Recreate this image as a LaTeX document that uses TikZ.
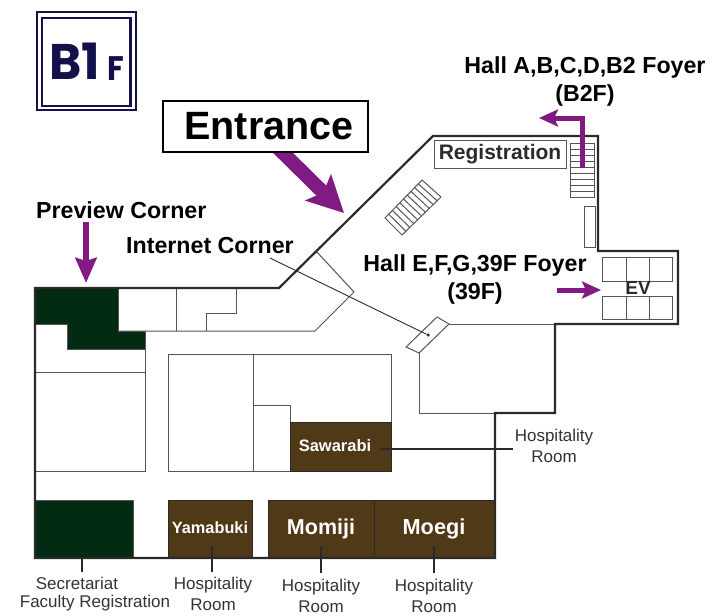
\documentclass[tikz,border=0pt]{standalone}
\usepackage{fontspec}
\setmainfont{Liberation Sans}
\newfontfamily\floorfont{Poppins}
\usepackage{tikz}
\usetikzlibrary{arrows.meta,calc}
\definecolor{floornavy}{HTML}{14104A}
\definecolor{wayviolet}{HTML}{821A84}
\definecolor{officegreen}{HTML}{032A13}
\definecolor{roombrown}{HTML}{4F3916}
\definecolor{wallgrey}{HTML}{2A2A2A}
\definecolor{thingrey}{HTML}{555555}
\tikzset{
  wall/.style={draw=wallgrey, line width=2.2pt, line join=miter},
  partition/.style={draw=thingrey, line width=1pt},
  office/.style={fill=officegreen, draw=thingrey, line width=.8pt},
  hospitality/.style={fill=roombrown, draw=wallgrey, line width=.8pt},
  roomname/.style={text=white, font=\bfseries\fontsize{#1}{#1}\selectfont, inner sep=0pt},
  waylabel/.style={text=black, font=\bfseries\fontsize{23.2}{28}\selectfont, align=center, inner sep=0pt},
  infolabel/.style={text=black!80, font=\fontsize{17}{21}\selectfont, align=center, inner sep=0pt},
  leader/.style={draw=wallgrey, line width=1.2pt},
  spot/.style={circle, fill=wallgrey, inner sep=0pt, minimum size=3.5pt},
  way/.style={draw=wayviolet, line width=5pt, -{Stealth[length=19pt,width=17pt,inset=4pt]}},
}
\begin{document}
\begin{tikzpicture}[x=1pt,y=-1pt]
  \useasboundingbox (0,0) rectangle (719,615);

  % dark rooms first
  \path[office] (35,288) -- (118,288) -- (118,331) -- (145,331) -- (145,349) -- (67,349) -- (67,324) -- (35,324) -- cycle;
  \path[office] (35,500) rectangle (133,558);
  \path[hospitality] (290,422) rectangle (391,471);
  \path[hospitality] (168,500) rectangle (252,558);
  \path[hospitality] (268,500) rectangle (374,558);
  \path[hospitality] (374,500) rectangle (495,558);

  % inner rooms
  \draw[partition] (316,251) -- (354,292) -- (315,331) -- (118,331);
  \draw[partition] (176,288) -- (176,331);
  \draw[partition] (236,288) -- (236,313) -- (206,313) -- (206,331);
  \draw[partition] (145,349) -- (145,471) -- (35,471);
  \draw[partition] (35,372) -- (145,372);
  \draw[partition] (290,422) -- (290,405) -- (253,405);
  \draw[partition] (253,354) -- (253,471);
  \draw[partition] (290,471) -- (168,471) -- (168,354) -- (391,354) -- (391,422);
  \draw[partition] (419,353) -- (419,413) -- (495,413);
  \draw[partition] (449,324) -- (555,324);
  \draw[partition] (437,317) -- (449,324) -- (419,353) -- (406,347) -- cycle;
  \draw[partition] (584,206) rectangle (595,247);

  % outer wall
  \draw[wall] (35,288) -- (279,288) -- (433,136) -- (598,136) -- (598,251) -- (678,251) -- (678,324) -- (555,324)
    -- (555,413) -- (495,413) -- (495,558) -- (35,558) -- cycle;

  % stairs
  \draw[partition] (570,143) rectangle (594,197);
  \foreach \y in {149,155,...,191} {
    \draw[partition] (570,\y) -- (594,\y);
  }
  \coordinate (sa) at (422,180);
  \coordinate (sb) at (441,197);
  \coordinate (sc) at (402,235);
  \coordinate (sd) at (385,218);
  \draw[partition] (sa) -- (sb) -- (sc) -- (sd) -- cycle;
  \foreach \t in {.1,.2,...,.9} {
    \draw[partition] ($(sa)!\t!(sd)$) -- ($(sb)!\t!(sc)$);
  }

  % lifts
  \draw[partition] (602,257) rectangle (672,281);
  \draw[partition] (602,296) rectangle (672,319);
  \foreach \x in {626,649} {
    \draw[partition] (\x,257) -- (\x,281);
    \draw[partition] (\x,296) -- (\x,319);
  }
  \node[text=wallgrey, font=\bfseries\fontsize{19}{19}\selectfont, inner sep=0pt] (ev) at (638,288) {EV};

  % floor sign
  \draw[floornavy, line width=1.3pt] (37,12) rectangle (136,110);
  \draw[floornavy, line width=2.4pt] (42,18) rectangle (130.5,106);
  \node[text=floornavy, inner sep=0pt] (floor) at (74.5,61)
    {\scalebox{.98}[1]{\floorfont\bfseries\fontsize{50}{50}\selectfont B1}};
  \node[text=floornavy, inner sep=0pt] (floorF) at (116,69)
    {\scalebox{.9}[1]{\floorfont\bfseries\fontsize{34}{34}\selectfont F}};

  % entrance
  \coordinate (entrancefrom) at (274,144);
  \coordinate (entranceto) at (344,213);
  \draw[draw=wayviolet, line width=14pt, -{Stealth[length=36pt,width=36pt,inset=7pt]}] (entrancefrom) -- (entranceto);
  \node[draw=black, fill=white, line width=2pt, minimum width=205pt, minimum height=50pt, inner sep=0pt,
    font=\bfseries\fontsize{39.5}{39.5}\selectfont] (entrance) at (265,126.5) {\raisebox{-1.5pt}{\hspace*{8pt}Entrance}};

  % preview corner
  \node[waylabel, anchor=west] (preview) at (36,210) {Preview Corner};
  \coordinate (previewfrom) at (86,222);
  \coordinate (previewto) at (86,283);
  \draw[draw=wayviolet, line width=6pt, -{Stealth[length=25pt,width=21pt,inset=3pt]}] (previewfrom) -- (previewto);

  % internet corner
  \node[waylabel, anchor=west] (internet) at (126,246) {Internet Corner};
  \node[spot] (internetspot) at (428,335) {};
  \coordinate (internetfrom) at (270,258);
  \draw[draw=wallgrey, line width=.9pt] (internetfrom) -- (internetspot);

  % registration
  \node[draw=thingrey, line width=1pt, minimum width=132pt, minimum height=28pt, inner sep=0pt, text=wallgrey,
    font=\bfseries\fontsize{21}{21}\selectfont] (registration) at (500,154) {\raisebox{-1pt}{Registration}};

  % foyers
  \node[waylabel] (hallb) at (585,81.5) {Hall A,B,C,D,B2 Foyer\\(B2F)};
  \node[waylabel] (halle) at (475,279.5) {Hall E,F,G,39F Foyer\\(39F)};
  \coordinate (stairfrom) at (582,168);
  \coordinate (stairbend) at (582,118);
  \coordinate (stairto) at (539,118);
  \draw[way, miter limit=10] (stairfrom) -- (stairbend) -- (stairto);
  \coordinate (liftfrom) at (557,290);
  \coordinate (liftto) at (601,290);
  \draw[way] (liftfrom) -- (liftto);

  % room names
  \node[roomname=16.5] (sawarabi) at (335,446) {Sawarabi};
  \node[roomname=16.3] (yamabuki) at (210,528) {Yamabuki};
  \node[roomname=21.5] (momiji) at (321,529) {Momiji};
  \node[roomname=21.7] (moegi) at (434,529) {Moegi};

  % room labels
  \node[infolabel] (secretariat) at (77,583) {Secretariat};
  \node[infolabel] (faculty) at (95,603) {Faculty Registration};
  \node[infolabel] (hospyamabuki) at (213,594) {Hospitality\\Room};
  \node[infolabel] (hospmomiji) at (321,595.5) {Hospitality\\Room};
  \node[infolabel] (hospmoegi) at (434,595.5) {Hospitality\\Room};
  \node[infolabel] (hospsawarabi) at (554,445.5) {Hospitality\\Room};

  % leaders
  \coordinate (officefoot) at (82,558);
  \coordinate (officeend) at (82,572);
  \draw[leader] (officefoot) -- (officeend);
  \node[spot] (yamabukispot) at (212,548) {};
  \coordinate (yamabukiend) at (212,572);
  \draw[leader] (yamabukispot) -- (yamabukiend);
  \node[spot] (momijispot) at (321,548) {};
  \coordinate (momijiend) at (321,573);
  \draw[leader] (momijispot) -- (momijiend);
  \node[spot] (moegispot) at (434,548) {};
  \coordinate (moegiend) at (434,573);
  \draw[leader] (moegispot) -- (moegiend);
  \node[spot] (sawarabispot) at (382,449) {};
  \coordinate (sawarabiend) at (513,449);
  \draw[leader] (sawarabispot) -- (sawarabiend);
\end{tikzpicture}
\end{document}
